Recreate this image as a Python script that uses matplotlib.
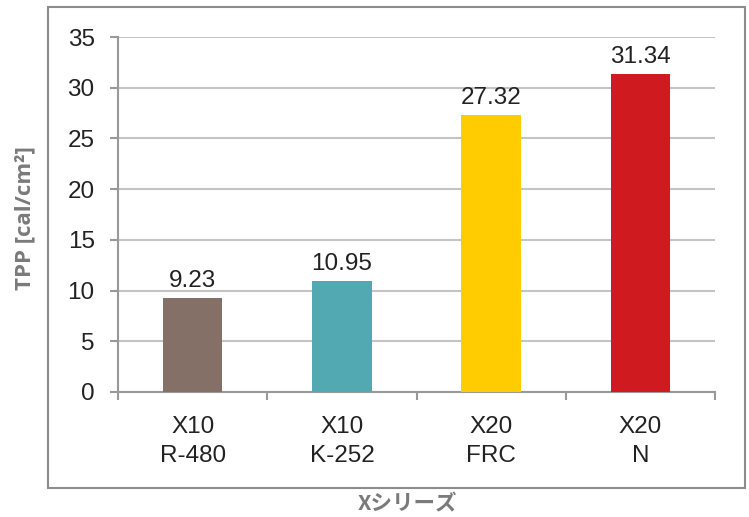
import matplotlib
matplotlib.use("Agg")
import matplotlib.pyplot as plt
from matplotlib.patches import Rectangle

# data
categories = ["X10\nR-480", "X10\nK-252", "X20\nFRC", "X20\nN"]
tpp_values = [9.23, 10.95, 27.32, 31.34]
bar_colors = ["#857068", "#53a9b2", "#fecc00", "#cf1a20"]
y_ticks = [0, 5, 10, 15, 20, 25, 30, 35]

plt.rcParams['font.family'] = ['Liberation Sans', 'DejaVu Sans']

fig = plt.figure(figsize=(7.49, 5.17), dpi=100)
ax = fig.add_axes([118/749, 1 - 392/517, (715 - 118)/749, (392 - 37)/517])

x = list(range(len(categories)))
bars = ax.bar(x, tpp_values, width=0.4, color=bar_colors, zorder=3)

# value labels above the bars
for b, v in zip(bars, tpp_values):
    ax.annotate(f"{v:.2f}", (b.get_x() + b.get_width()/2, v),
                xytext=(0, 4.5), textcoords="offset points",
                ha="center", va="bottom", fontsize=17.5, color="#222222")

ax.set_xlim(-0.5, len(categories) - 0.5)
ax.set_ylim(0, 35)
ax.set_yticks(y_ticks)
ax.set_yticklabels([str(t) for t in y_ticks], fontsize=17.5, color="#222222")
ax.yaxis.grid(True, color="#c4c4c4", linewidth=1.5, zorder=0)
ax.set_axisbelow(True)

# category ticks sit between the bars
ax.set_xticks([i - 0.5 for i in range(len(categories) + 1)], minor=False)
ax.set_xticklabels([])
ax.set_xticks(x, minor=True)
ax.set_xticklabels(categories, minor=True, fontsize=17.5, color="#222222", linespacing=1.45)
ax.tick_params(axis="x", which="minor", length=0, pad=17)
ax.tick_params(axis="x", which="major", length=5.8, width=1.5, color="#999999", direction="out")
ax.tick_params(axis="y", length=5.8, width=1.5, color="#999999", pad=11)

for s in ["top", "right"]:
    ax.spines[s].set_visible(False)
for s in ["left", "bottom"]:
    ax.spines[s].set_color("#999999")
    ax.spines[s].set_linewidth(1.5)

# outer frame
fig.patches.append(Rectangle((48/749, 1 - 488/517), (745 - 48)/749, (488 - 7)/517,
                             transform=fig.transFigure, fill=False,
                             edgecolor="#8c8c8c", linewidth=1.5))

fig.text(25/749, 1 - 218/517, "TPP [cal/cm²]", rotation=90, ha="center", va="center",
         fontsize=16, fontweight="bold", color="#7a7a7a", family=["Open Sans", "DejaVu Sans"])
fig.text(407/749, 1 - 504/517, "Xシリーズ", ha="center", va="center",
         fontsize=15.5, fontweight="bold", color="#7a7a7a",
         family=["Noto Sans CJK JP", "DejaVu Sans"])

fig.savefig("out.png", dpi=100)
